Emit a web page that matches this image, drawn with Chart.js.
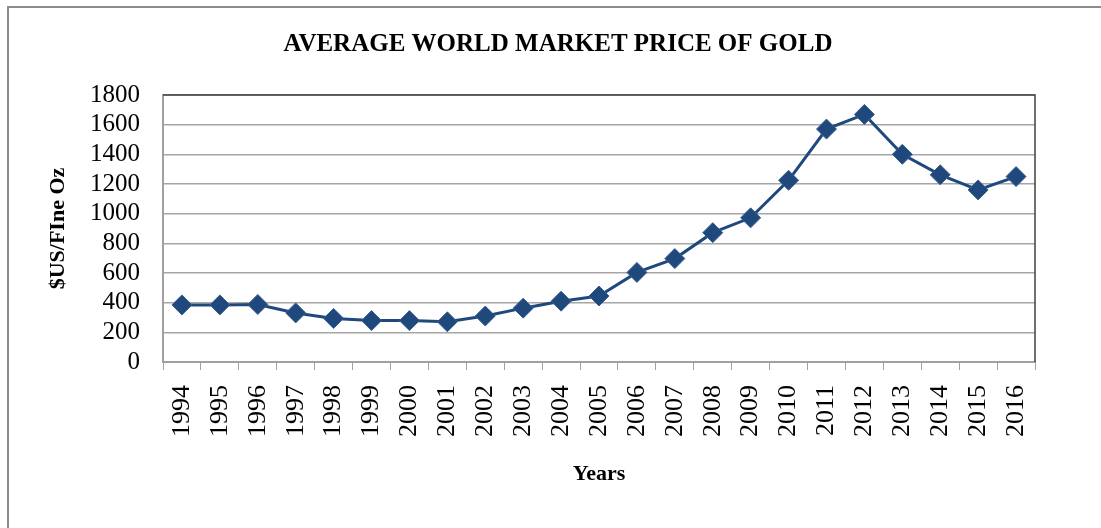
<!DOCTYPE html>
<html>
<head>
<meta charset="utf-8">
<title>Average World Market Price of Gold</title>
<script src="https://cdn.jsdelivr.net/npm/chart.js@4.4.1/dist/chart.umd.min.js"></script>
<style>
  html, body { margin: 0; padding: 0; background: #ffffff; }
  #wrap { width: 1101px; height: 528px; position: relative; }
</style>
</head>
<body>
<div id="wrap"><canvas id="goldChart"></canvas></div>
<script>
// Chart data
const years = ['1994', '1995', '1996', '1997', '1998', '1999', '2000', '2001', '2002', '2003', '2004', '2005',
               '2006', '2007', '2008', '2009', '2010', '2011', '2012', '2013', '2014', '2015', '2016'];
const goldPrice = [385, 385, 388, 331, 294, 279, 279, 271, 310, 363, 410, 445,
                   604, 697, 872, 972, 1225, 1570, 1669, 1400, 1262, 1160, 1250];
const yTicks = [0, 200, 400, 600, 800, 1000, 1200, 1400, 1600, 1800];
const chartTitle = 'AVERAGE WORLD MARKET PRICE OF GOLD';

const serif = '"Liberation Serif", "Times New Roman", serif';

// Outer frame, the title, and the dark top/right edges of the plot area
const framePlugin = {
    id: 'frame',
    beforeDraw(chart) {
        const c = chart.ctx;
        c.save();
        c.strokeStyle = '#8c8c8c';
        c.lineWidth = 2;
        c.beginPath();
        c.moveTo(8, 528);
        c.lineTo(8, 7);
        c.lineTo(1101, 7);
        c.stroke();
        c.restore();
    },
    afterDraw(chart) {
        const a = chart.chartArea;
        const c = chart.ctx;
        c.save();
        c.strokeStyle = '#404040';
        c.lineWidth = 1.5;
        c.beginPath();
        c.moveTo(a.left, a.top);
        c.lineTo(a.right, a.top);
        c.lineTo(a.right, a.bottom);
        c.stroke();

        c.fillStyle = '#000000';
        c.font = 'bold 25px ' + serif;
        c.textAlign = 'center';
        c.textBaseline = 'middle';
        c.fillText(chartTitle, 558, 45);
        c.restore();
    }
};

let ctx = document.getElementById('goldChart').getContext('2d');

new Chart(ctx, {
    type: 'line',
    data: {
        labels: years,
        datasets: [{
            label: 'Gold price',
            data: goldPrice,
            borderColor: '#1F497D',
            backgroundColor: '#1F497D',
            borderWidth: 3,
            pointStyle: 'rectRot',
            pointRadius: 10,
            pointHoverRadius: 10,
            pointBackgroundColor: '#1F497D',
            pointBorderColor: '#3a5f8f',
            pointBorderWidth: 1,
            tension: 0,
            fill: false
        }]
    },
    options: {
        responsive: true,
        maintainAspectRatio: false,
        animation: false,
        layout: { padding: { left: 41, right: 66, top: 95, bottom: 36 } },
        plugins: {
            legend: { display: false },
            tooltip: { enabled: false },
            title: { display: false }
        },
        scales: {
            x: {
                offset: true,
                grid: {
                    offset: true,
                    drawOnChartArea: false,
                    drawTicks: true,
                    tickLength: 8,
                    color: '#a0a0a0'
                },
                border: { color: '#a0a0a0', width: 2 },
                ticks: {
                    color: '#000000',
                    font: { family: serif, size: 26 },
                    minRotation: 90,
                    maxRotation: 90,
                    padding: 15,
                    autoSkip: false
                },
                title: {
                    display: true,
                    text: 'Years',
                    color: '#000000',
                    font: { family: serif, size: 22, weight: 'bold' },
                    padding: { top: 0, bottom: 4 }
                },
                afterFit(scale) { scale.height = 130; }
            },
            y: {
                min: 0,
                max: 1800,
                afterBuildTicks(scale) { scale.ticks = yTicks.map(v => ({ value: v })); },
                grid: {
                    color: '#a6a6a6',
                    lineWidth: 1.5,
                    drawTicks: false
                },
                border: { color: '#a0a0a0', width: 2 },
                ticks: {
                    color: '#000000',
                    font: { family: serif, size: 25 },
                    padding: 23,
                    autoSkip: false,
                    callback: (value) => String(value)
                },
                title: {
                    display: true,
                    text: '$US/FIne Oz',
                    color: '#000000',
                    font: { family: serif, size: 22, weight: 'bold' },
                    padding: { top: 4, bottom: 0 }
                },
                afterFit(scale) { scale.width = 122; }
            }
        }
    },
    plugins: [framePlugin]
});
</script>
</body>
</html>
